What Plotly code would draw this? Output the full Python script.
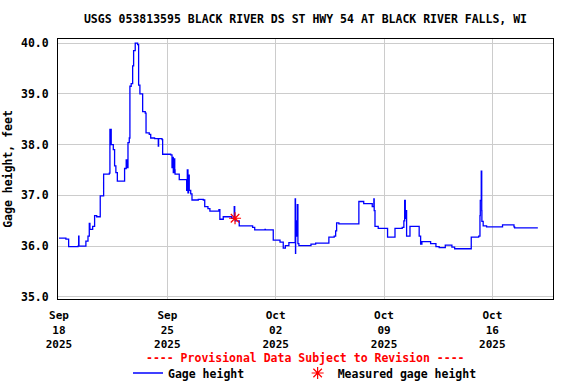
import plotly.graph_objects as go

# Gage height time series (step data)
times = [
    "2025-09-18 00:00", "2025-09-18 10:45", "2025-09-18 15:00", "2025-09-19 05:30",
    "2025-09-19 06:30", "2025-09-19 07:00", "2025-09-19 17:45", "2025-09-19 21:00",
    "2025-09-19 23:00", "2025-09-20 00:00", "2025-09-20 04:15", "2025-09-20 07:15",
    "2025-09-20 10:30", "2025-09-20 16:00", "2025-09-20 21:15", "2025-09-21 06:00",
    "2025-09-21 07:00", "2025-09-21 09:00", "2025-09-21 12:15", "2025-09-21 14:15",
    "2025-09-21 16:15", "2025-09-21 18:30", "2025-09-22 05:45", "2025-09-22 08:15",
    "2025-09-22 10:00", "2025-09-22 11:00", "2025-09-22 13:00", "2025-09-22 14:00",
    "2025-09-22 16:00", "2025-09-22 18:15", "2025-09-22 19:45", "2025-09-22 22:15",
    "2025-09-23 02:00", "2025-09-23 03:30", "2025-09-23 05:30", "2025-09-23 09:45",
    "2025-09-23 13:45", "2025-09-23 15:00", "2025-09-23 20:00", "2025-09-23 22:15",
    "2025-09-24 04:15", "2025-09-24 10:00", "2025-09-24 10:30", "2025-09-24 15:45",
    "2025-09-24 16:45", "2025-09-25 05:15", "2025-09-25 07:15", "2025-09-25 08:15",
    "2025-09-25 09:15", "2025-09-25 10:15", "2025-09-25 11:30", "2025-09-25 12:00",
    "2025-09-25 18:30", "2025-09-26 06:00", "2025-09-26 07:00", "2025-09-26 08:00",
    "2025-09-26 09:00", "2025-09-26 10:00", "2025-09-26 12:15", "2025-09-26 14:15",
    "2025-09-27 00:00", "2025-09-27 07:45", "2025-09-27 10:00", "2025-09-27 15:00",
    "2025-09-27 18:00", "2025-09-28 08:00", "2025-09-28 09:30", "2025-09-28 14:45",
    "2025-09-29 03:45", "2025-09-29 07:45", "2025-09-29 08:30", "2025-09-29 09:15",
    "2025-09-29 15:30", "2025-09-30 12:15", "2025-09-30 15:30", "2025-10-01 07:30",
    "2025-10-01 08:00", "2025-10-01 20:15", "2025-10-02 06:45", "2025-10-02 11:45",
    "2025-10-02 15:00", "2025-10-02 20:30", "2025-10-03 06:15", "2025-10-03 06:45",
    "2025-10-03 07:00", "2025-10-03 08:30", "2025-10-03 09:30", "2025-10-03 10:30",
    "2025-10-03 12:00", "2025-10-04 06:45", "2025-10-04 14:00", "2025-10-05 10:30",
    "2025-10-05 18:45", "2025-10-05 21:00", "2025-10-05 22:30", "2025-10-06 02:00",
    "2025-10-07 09:00", "2025-10-07 16:30", "2025-10-08 05:45", "2025-10-08 08:15",
    "2025-10-08 08:45", "2025-10-08 10:00", "2025-10-08 15:00", "2025-10-09 05:30",
    "2025-10-09 17:00", "2025-10-10 04:15", "2025-10-10 06:45", "2025-10-10 08:00",
    "2025-10-10 09:00", "2025-10-10 10:00", "2025-10-10 11:00", "2025-10-10 16:15",
    "2025-10-11 06:30", "2025-10-11 08:45", "2025-10-11 10:45", "2025-10-12 00:15",
    "2025-10-12 08:30", "2025-10-12 13:30", "2025-10-12 23:00", "2025-10-13 09:15",
    "2025-10-13 13:30", "2025-10-14 15:15", "2025-10-15 02:45", "2025-10-15 04:45",
    "2025-10-15 05:15", "2025-10-15 06:45", "2025-10-15 07:30", "2025-10-15 07:45",
    "2025-10-15 09:45", "2025-10-15 15:00", "2025-10-16 15:45", "2025-10-17 09:30",
    "2025-10-17 10:30", "2025-10-18 22:30",
]
gage_height = [
    36.16, 36.14, 35.99, 36.00,
    36.20, 36.00, 36.10, 36.20,
    36.45, 36.33, 36.39, 36.60,
    36.58, 36.99, 37.42, 37.44,
    38.30, 38.00, 37.90, 37.58,
    37.45, 37.28, 37.53, 37.70,
    37.55, 38.04, 38.13, 39.15,
    39.20, 39.55, 39.85, 40.00,
    39.97, 39.17, 39.00, 38.65,
    38.62, 38.23, 38.20, 38.13,
    38.12, 37.97, 38.12, 38.10,
    37.81, 37.80, 37.55, 37.75,
    37.45, 37.72, 37.50, 37.42,
    37.31, 37.10, 37.50, 37.05,
    37.40, 37.10, 37.03, 36.91,
    36.92, 36.91, 36.78, 36.74,
    36.69, 36.72, 36.53, 36.58,
    36.55, 36.78, 36.55, 36.50,
    36.40, 36.37, 36.32, 36.33,
    36.32, 36.12, 36.08, 35.96,
    36.01, 36.07, 36.93, 35.86,
    36.20, 36.50, 36.82, 36.05,
    36.01, 36.04, 36.06, 36.18,
    36.20, 36.30, 36.46, 36.44,
    36.88, 36.84, 36.78, 36.93,
    36.70, 36.39, 36.35, 36.18,
    36.35, 36.37, 36.50, 36.90,
    36.55, 36.70, 36.20, 36.39,
    36.20, 36.04, 36.09, 36.05,
    35.99, 35.97, 36.02, 35.98,
    35.95, 36.18, 36.20, 36.60,
    36.90, 37.48, 36.70, 36.49,
    36.40, 36.38, 36.42, 36.38,
    36.36, 36.36,
]

# Field measurement
measured_times = ["2025-09-29 09:00"]
measured_height = [36.55]

# Axis ticks
x_tick_vals = ["2025-09-18", "2025-09-25", "2025-10-02", "2025-10-09", "2025-10-16"]
x_tick_text = ["Sep<br>18<br>2025", "Sep<br>25<br>2025", "Oct<br>02<br>2025",
               "Oct<br>09<br>2025", "Oct<br>16<br>2025"]
y_tick_vals = [35, 36, 37, 38, 39, 40]

FONT = "DejaVu Sans Mono"
fnt = dict(family=FONT, size=11.5, color="black", weight="bold")
xfnt = dict(family=FONT, size=11, color="black", weight="bold")

fig = go.Figure()
fig.add_trace(go.Scatter(
    x=times, y=gage_height, mode="lines",
    name="Gage height" + "\u00a0" * 7,
    line=dict(color="#0000ff", width=1.3, shape="hv"),
))
fig.add_trace(go.Scatter(
    x=measured_times, y=measured_height, mode="markers", name="Measured gage height",
    marker=dict(symbol="asterisk-open", size=10, color="red", line=dict(color="red", width=1.2)),
))

fig.update_layout(
    width=576, height=384,
    margin=dict(l=58, r=23, t=39, b=85, autoexpand=False),
    paper_bgcolor="white", plot_bgcolor="white",
    font=fnt,
    title=dict(text="USGS 053813595 BLACK RIVER DS ST HWY 54 AT BLACK RIVER FALLS, WI",
               x=0.5, xref="paper", xanchor="center",
               y=1 - 19 / 384, yref="container", yanchor="middle", font=fnt),
    showlegend=True,
    legend=dict(orientation="h", x=(128 - 58) / 495, xanchor="left",
                y=-(373 - 299) / 260, yanchor="middle",
                font=fnt, itemwidth=30, bgcolor="rgba(0,0,0,0)"),
    annotations=[dict(text="---- Provisional Data Subject to Revision ----",
                      xref="paper", yref="paper", x=0.5, y=-(358 - 299) / 260,
                      xanchor="center", yanchor="middle", showarrow=False,
                      font=dict(family=FONT, size=11.5, color="red", weight="bold"))],
)
fig.update_xaxes(
    range=["2025-09-17 22:30", "2025-10-19 22:00"],
    tickvals=x_tick_vals, ticktext=x_tick_text, automargin=False,
    showgrid=True, gridcolor="#cccccc", gridwidth=1,
    showline=True, linecolor="black", linewidth=1, mirror=True,
    ticks="", zeroline=False, tickfont=xfnt, ticklabelstandoff=6,
)
fig.update_yaxes(
    range=[34.96, 40.08], automargin=False,
    tickvals=y_tick_vals, tickformat=".1f",
    showgrid=True, gridcolor="#cccccc", gridwidth=1,
    showline=True, linecolor="black", linewidth=1, mirror=True,
    ticks="", zeroline=False, tickfont=fnt, ticklabelstandoff=6,
    title=dict(text="Gage height, feet", font=fnt, standoff=5),
)

fig.write_html("out.html", config={"displayModeBar": False},
               post_script="document.body.style.margin='0px';")
